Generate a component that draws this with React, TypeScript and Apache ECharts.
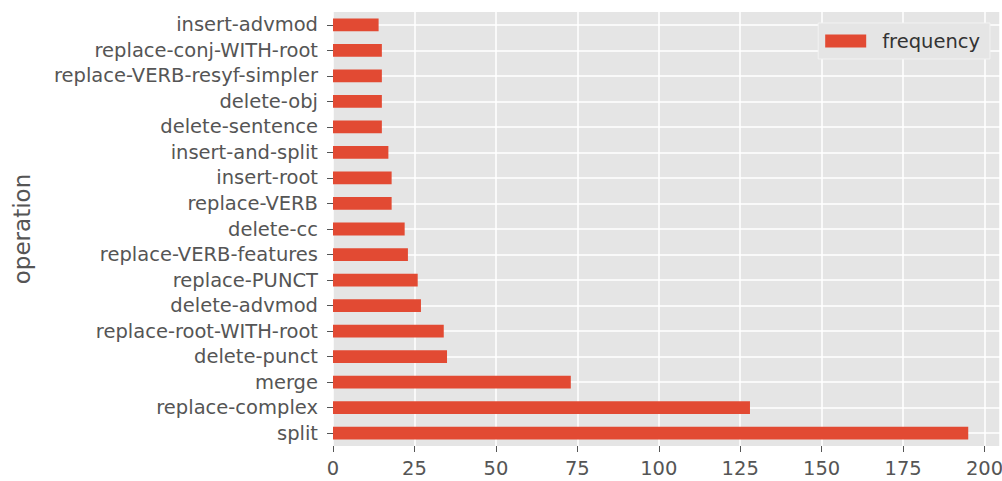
import React, { useEffect, useRef } from "react";
import * as echarts from "echarts";

// bottom to top (ECharts category axis starts at the bottom)
const categories = [
  "split",
  "replace-complex",
  "merge",
  "delete-punct",
  "replace-root-WITH-root",
  "delete-advmod",
  "replace-PUNCT",
  "replace-VERB-features",
  "delete-cc",
  "replace-VERB",
  "insert-root",
  "insert-and-split",
  "delete-sentence",
  "delete-obj",
  "replace-VERB-resyf-simpler",
  "replace-conj-WITH-root",
  "insert-advmod",
];
const frequency = [195, 128, 73, 35, 34, 27, 26, 23, 22, 18, 18, 17, 15, 15, 15, 15, 14];
const xTicks = [0, 25, 50, 75, 100, 125, 150, 175, 200];

export default function App() {
  const ref = useRef<HTMLDivElement>(null);
  useEffect(() => {
    if (!ref.current) return;
    const chart = echarts.init(ref.current, undefined, { renderer: "svg" });
    const font = "DejaVu Sans";
    chart.setOption({
      animation: false,
      backgroundColor: "#ffffff",
      grid: {
        left: 333,
        right: 2,
        top: 12,
        bottom: 35,
        backgroundColor: "#E5E5E5",
        show: true,
        borderWidth: 0,
        containLabel: false,
        outerBoundsMode: "none",
      },
      legend: {
        right: 12,
        top: 23,
        padding: [8, 10, 8, 7],
        backgroundColor: "#E5E5E5",
        borderColor: "#F2F2F2",
        borderWidth: 1,
        itemWidth: 41,
        itemHeight: 13,
        icon: "rect",
        textStyle: { fontFamily: font, fontSize: 19.5, color: "#333333", padding: [0, 0, 0, 11] },
        data: ["frequency"],
      },
      xAxis: {
        type: "value",
        min: 0,
        max: 204.75,
        interval: 25,
        axisLine: { show: false },
        axisTick: { show: true, length: 6, lineStyle: { color: "#555555", width: 1 } },
        axisLabel: {
          fontFamily: font,
          fontSize: 19.5,
          color: "#555555",
          margin: 12,
          showMaxLabel: false,
          formatter: (v: number) => (xTicks.includes(v) ? String(v) : ""),
        },
        splitLine: { show: true, lineStyle: { color: "#ffffff", width: 1.5 } },
      },
      yAxis: {
        type: "category",
        data: categories,
        name: "operation",
        nameLocation: "middle",
        nameGap: 300,
        nameTextStyle: { fontFamily: font, fontSize: 23, color: "#555555" },
        axisLine: { show: false },
        axisTick: { show: true, alignWithLabel: true, interval: 0, length: 6, lineStyle: { color: "#555555", width: 1 } },
        axisLabel: { fontFamily: font, fontSize: 19.5, color: "#555555", margin: 15, interval: 0, hideOverlap: false },
        splitLine: { show: true, alignWithLabel: true, interval: 0, lineStyle: { color: "#ffffff", width: 1.5 } },
      },
      series: [
        {
          name: "frequency",
          type: "bar",
          data: frequency,
          barWidth: "50%",
          itemStyle: { color: "#E24A33" },
        },
      ],
    });
    return () => chart.dispose();
  }, []);
  return <div ref={ref} style={{ width: 1002, height: 481, position: "absolute", left: 0, top: 0 }} />;
}
